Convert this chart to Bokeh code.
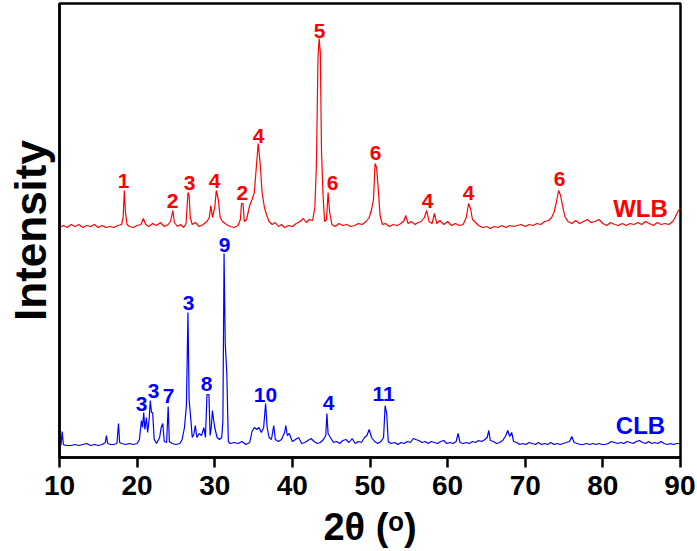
from bokeh.plotting import figure
from bokeh.models import Range1d, FixedTicker
from bokeh.embed import file_html
from bokeh.resources import INLINE
from bokeh.core.properties import value

# ---- data (2θ in degrees, intensity in arbitrary units; WLB offset above CLB) ----
wlb_2theta = [10.0, 10.5, 11.0, 11.5, 12.0, 12.5, 13.0, 13.5, 14.0, 14.5, 15.0, 15.5, 16.0, 16.5, 17.0, 17.5,
              18.0, 18.2, 18.35, 18.5, 18.7, 19.0, 19.5, 20.0, 20.5, 20.8, 21.1, 21.5, 22.0, 22.5, 23.0, 23.5,
              24.0, 24.3, 24.6, 24.8, 25.2, 25.6, 26.0, 26.3, 26.55, 26.7, 26.85, 27.1, 27.5, 28.0, 28.5, 29.0,
              29.3, 29.5, 29.7, 30.0, 30.2, 30.45, 30.7, 31.0, 31.5, 32.0, 32.5, 33.0, 33.3, 33.45, 33.65, 33.8,
              34.1, 34.5, 34.8, 35.1, 35.35, 35.6, 35.85, 36.1, 36.4, 36.7, 37.0, 37.4, 37.8, 38.2, 38.6, 39.0,
              39.5, 40.0, 40.5, 41.0, 41.4, 41.8, 42.2, 42.6, 42.9, 43.1, 43.3, 43.45, 43.6, 43.75, 43.95, 44.15,
              44.4, 44.6, 44.8, 45.1, 45.5, 46.0, 46.5, 47.0, 47.5, 48.0, 48.5, 49.0, 49.5, 49.9, 50.2, 50.45,
              50.65, 50.85, 51.05, 51.3, 51.6, 52.0, 52.5, 53.0, 53.5, 54.0, 54.4, 54.6, 54.9, 55.3, 55.8, 56.2,
              56.6, 57.0, 57.3, 57.6, 58.0, 58.3, 58.6, 59.0, 59.5, 60.0, 60.5, 61.0, 61.5, 62.0, 62.4, 62.7,
              62.95, 63.2, 63.6, 64.0, 64.5, 65.0, 65.5, 66.0, 66.5, 67.0, 67.5, 68.0, 68.5, 69.0, 69.5, 70.0,
              70.5, 71.0, 71.5, 72.0, 72.5, 73.0, 73.4, 73.7, 74.0, 74.3, 74.55, 74.8, 75.1, 75.5, 76.0, 76.5,
              77.0, 77.5, 78.0, 78.5, 79.0, 79.5, 80.0, 80.5, 81.0, 81.5, 82.0, 82.5, 83.0, 83.5, 84.0, 84.5,
              85.0, 85.5, 86.0, 86.5, 87.0, 87.5, 88.0, 88.5, 89.0, 89.3, 89.6, 90.0]
wlb_intensity = [230, 232, 230, 233, 231, 233, 230, 232, 231, 233, 230, 232, 230, 231, 230, 232,
                 233, 240, 267, 245, 233, 231, 230, 232, 233, 239, 233, 231, 234, 232, 235, 231,
                 233, 236, 247, 235, 231, 233, 230, 234, 265, 262, 240, 233, 235, 231, 233, 236,
                 240, 252, 240, 250, 267, 258, 240, 236, 233, 231, 230, 232, 238, 254, 254, 236,
                 238, 252, 258, 265, 290, 314, 294, 265, 250, 242, 236, 233, 235, 231, 233, 230,
                 232, 231, 234, 236, 239, 235, 238, 237, 250, 294, 400, 419, 405, 307, 262, 236,
                 238, 265, 245, 233, 231, 234, 232, 233, 231, 232, 234, 233, 236, 240, 248, 258,
                 294, 290, 270, 242, 233, 234, 231, 233, 232, 234, 237, 242, 234, 236, 233, 235,
                 236, 240, 247, 236, 234, 244, 234, 237, 233, 236, 232, 234, 232, 233, 240, 254,
                 249, 238, 235, 232, 230, 231, 229, 231, 230, 232, 230, 232, 231, 232, 233, 231,
                 233, 232, 234, 233, 236, 237, 240, 245, 255, 267, 262, 252, 241, 236, 234, 237,
                 234, 236, 238, 235, 236, 238, 234, 232, 235, 233, 232, 234, 232, 234, 233, 235,
                 233, 236, 234, 232, 235, 233, 234, 233, 236, 240, 245, 250]

clb_2theta = [10.0, 10.2, 10.35, 10.5, 10.8, 11.5, 12.0, 12.5, 13.0, 13.5, 14.0, 14.5, 15.0, 15.5, 15.9, 16.05,
              16.2, 16.6, 17.0, 17.4, 17.6, 17.75, 18.0, 18.5, 19.0, 19.5, 20.0, 20.3, 20.55, 20.7, 20.85, 21.0,
              21.2, 21.35, 21.55, 21.7, 21.85, 22.0, 22.2, 22.5, 22.9, 23.1, 23.3, 23.5, 23.8, 24.0, 24.15, 24.5,
              25.0, 25.5, 25.8, 26.1, 26.35, 26.55, 26.7, 26.9, 27.1, 27.3, 27.5, 27.7, 28.0, 28.3, 28.6, 28.8,
              29.0, 29.25, 29.4, 29.55, 29.7, 29.85, 30.0, 30.3, 30.6, 30.9, 31.05, 31.2, 31.35, 31.55, 31.75, 32.0,
              32.5, 33.0, 33.5, 34.0, 34.5, 34.8, 35.1, 35.4, 35.7, 36.0, 36.3, 36.55, 36.75, 37.0, 37.3, 37.6,
              37.8, 38.2, 38.6, 39.0, 39.15, 39.35, 39.6, 40.0, 40.4, 40.8, 41.2, 41.6, 42.0, 42.4, 42.8, 43.2,
              43.6, 44.0, 44.3, 44.45, 44.6, 44.9, 45.3, 45.7, 46.1, 46.5, 46.9, 47.3, 47.7, 48.1, 48.5, 48.9,
              49.3, 49.6, 49.9, 50.2, 50.6, 51.0, 51.4, 51.75, 51.95, 52.15, 52.35, 52.7, 53.2, 53.6, 54.0, 54.4,
              54.8, 55.2, 55.6, 55.9, 56.3, 56.7, 57.1, 57.5, 57.9, 58.3, 58.7, 59.1, 59.5, 59.9, 60.3, 60.7,
              61.1, 61.35, 61.6, 62.0, 62.4, 62.8, 63.2, 63.6, 64.0, 64.4, 64.8, 65.1, 65.3, 65.5, 65.9, 66.3,
              66.7, 67.1, 67.5, 67.75, 68.0, 68.25, 68.5, 68.9, 69.3, 69.7, 70.1, 70.5, 70.9, 71.3, 71.7, 72.1,
              72.5, 72.9, 73.3, 73.7, 74.1, 74.5, 74.9, 75.3, 75.7, 76.0, 76.3, 76.7, 77.1, 77.5, 77.9, 78.3,
              78.7, 79.1, 79.5, 79.9, 80.3, 80.7, 81.1, 81.5, 81.9, 82.3, 82.7, 83.1, 83.5, 83.9, 84.3, 84.7,
              85.1, 85.5, 85.9, 86.3, 86.7, 87.1, 87.5, 87.9, 88.3, 88.7, 89.1, 89.5, 90.0]
clb_intensity = [12, 13, 26, 13, 12, 12, 13, 12, 13, 14, 12, 13, 12, 13, 15, 22,
                 14, 13, 13, 14, 34, 15, 14, 13, 14, 13, 14, 18, 37, 30, 45, 28,
                 40, 25, 38, 57, 45, 45, 18, 14, 20, 30, 34, 16, 15, 51, 16, 14,
                 13, 14, 18, 30, 52, 145, 57, 40, 20, 23, 32, 20, 24, 22, 30, 20,
                 63, 63, 22, 30, 47, 38, 30, 20, 18, 20, 37, 204, 114, 85, 16, 14,
                 15, 14, 16, 13, 15, 26, 30, 28, 30, 25, 30, 54, 30, 20, 18, 32,
                 18, 16, 18, 25, 32, 22, 24, 16, 18, 20, 14, 15, 17, 19, 16, 14,
                 15, 18, 22, 44, 24, 20, 15, 16, 14, 17, 18, 15, 19, 14, 16, 15,
                 20, 22, 28, 20, 16, 14, 16, 20, 52, 44, 16, 14, 15, 13, 15, 14,
                 16, 15, 19, 18, 17, 15, 16, 14, 16, 15, 14, 16, 17, 14, 15, 14,
                 16, 24, 15, 14, 15, 14, 16, 15, 17, 16, 18, 20, 27, 17, 16, 14,
                 15, 17, 22, 27, 21, 25, 16, 15, 13, 14, 13, 15, 14, 13, 15, 13,
                 14, 13, 15, 13, 14, 13, 14, 15, 16, 21, 15, 14, 13, 13, 14, 13,
                 14, 13, 14, 13, 13, 14, 16, 15, 14, 15, 14, 16, 15, 14, 16, 17,
                 15, 14, 16, 14, 15, 14, 16, 14, 13, 14, 13, 14, 14]

# peak annotations
wlb_peak_text = ["1", "2", "3", "4", "2", "4", "5", "6", "6", "4", "4", "6"]
wlb_peak_2theta = [18.25, 24.56, 26.75, 29.97, 33.57, 35.64, 43.49, 45.17, 50.71, 57.41, 62.69, 74.41]
wlb_peak_y = [277, 257, 275, 277, 265, 322, 427, 275, 305, 257, 265, 279]

clb_peak_text = ["3", "3", "7", "3", "8", "9", "10", "4", "11"]
clb_peak_2theta = [20.56, 22.11, 24.04, 26.62, 28.94, 31.26, 36.54, 44.65, 51.74]
clb_peak_y = [54, 67, 62, 155, 74, 213, 63, 55, 64]

series_names = ["WLB", "CLB"]
series_name_2theta = [84.85, 84.85]
series_name_y = [249, 32]

x_ticks = [10, 20, 30, 40, 50, 60, 70, 80, 90]
x_title = "2θ (ᵒ)"
y_title = "Intensity"

FONT = "Liberation Sans"

p = figure(width=695, height=551, x_range=Range1d(10, 90), y_range=Range1d(0, 454),
           output_backend="svg", toolbar_location=None,
           min_border_left=59, min_border_right=15, min_border_top=3, min_border_bottom=94,
           margin=(0, 0, 0, 0))
p.background_fill_color = "white"
p.border_fill_color = "white"
p.outline_line_color = "black"
p.outline_line_width = 2.5
p.xgrid.visible = False
p.ygrid.visible = False

p.line(wlb_2theta, wlb_intensity, line_color="#ff0000", line_width=1.2)
p.line(clb_2theta, clb_intensity, line_color="#0000ff", line_width=1.2)

p.text(x=wlb_peak_2theta, y=wlb_peak_y, text=wlb_peak_text, text_color="#ff0000",
       text_font=value(FONT), text_font_style="bold", text_font_size="21px",
       text_align="center", text_baseline="middle")
p.text(x=clb_peak_2theta, y=clb_peak_y, text=clb_peak_text, text_color="#0000ff",
       text_font=value(FONT), text_font_style="bold", text_font_size="21px",
       text_align="center", text_baseline="middle")
p.text(x=series_name_2theta, y=series_name_y, text=series_names, text_color=["#ff0000", "#0000ff"],
       text_font=value(FONT), text_font_style="bold", text_font_size="24px",
       text_align="center", text_baseline="middle")

xa = p.xaxis[0]
xa.ticker = FixedTicker(ticks=x_ticks)
xa.minor_tick_line_color = None
xa.major_tick_out = 10
xa.major_tick_in = 0
xa.major_tick_line_width = 2.5
xa.axis_line_width = 2.5
xa.major_label_text_font = FONT
xa.major_label_text_font_style = "bold"
xa.major_label_text_font_size = "28px"
xa.major_label_text_color = "black"
xa.major_label_standoff = 8
xa.axis_label = x_title
xa.axis_label_text_font = FONT
xa.axis_label_text_font_style = "bold"
xa.axis_label_text_font_size = "38px"
xa.axis_label_text_color = "black"
xa.axis_label_standoff = 8

ya = p.yaxis[0]
ya.ticker = FixedTicker(ticks=[])
ya.major_tick_line_color = None
ya.minor_tick_line_color = None
ya.axis_line_width = 2.5
ya.major_label_standoff = 0
ya.axis_label = y_title
ya.axis_label_text_font = FONT
ya.axis_label_text_font_style = "bold"
ya.axis_label_text_font_size = "44px"
ya.axis_label_text_color = "black"
ya.axis_label_standoff = 5

open("out.html", "w").write(file_html(p, INLINE))
